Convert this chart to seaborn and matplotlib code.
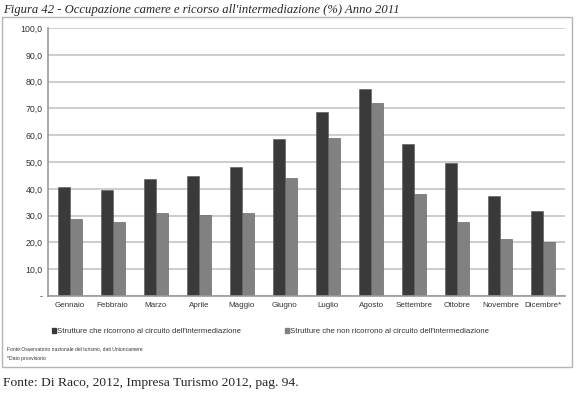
import pandas as pd
import matplotlib.pyplot as plt
import seaborn as sns
from matplotlib.patches import Rectangle

# Values (%)
mesi = ['Gennaio', 'Febbraio', 'Marzo', 'Aprile', 'Maggio', 'Giugno',
        'Luglio', 'Agosto', 'Settembre', 'Ottobre', 'Novembre', 'Dicembre*']
serie = ["Strutture che ricorrono al circuito dell'intermediazione",
         "Strutture che non ricorrono al circuito dell'intermediazione"]
ricorrono = [40.7, 39.7, 43.6, 44.6, 48.1, 58.6, 68.8, 77.3, 56.9, 49.6, 37.2, 31.9]
non_ricorrono = [28.7, 27.7, 31.1, 30.1, 31.1, 44.1, 58.9, 71.9, 38.0, 27.5, 21.4, 20.3]
yticks = [0, 10, 20, 30, 40, 50, 60, 70, 80, 90, 100]
ytick_labels = ['-'] + ['%d,0' % v for v in yticks[1:]]

colori = ['#3a3a3a', '#818181']

df = pd.DataFrame({
    'mese': mesi * 2,
    'valore': ricorrono + non_ricorrono,
    'serie': [serie[0]] * len(mesi) + [serie[1]] * len(mesi),
})

sns.set_style('white')
plt.rcParams['font.family'] = ['Liberation Sans', 'DejaVu Sans']

fig = plt.figure(figsize=(5.8, 3.97), dpi=100)
ax = fig.add_axes([0.083, 0.2544, 0.891, 0.675])

sns.barplot(data=df, x='mese', y='valore', hue='serie', palette=colori,
            width=0.56, saturation=1, gap=0, edgecolor='#555555', linewidth=0.4,
            ax=ax, legend=False)

ax.set_ylim(0, 100)
ax.set_xlim(-0.5, len(mesi) - 0.5)
ax.set_yticks(yticks)
ax.set_yticklabels(ytick_labels, fontsize=6.3, color='#333333')
ax.set_xticks(range(len(mesi)))
ax.set_xticklabels(mesi, fontsize=5.8, color='#333333')
ax.set_xlabel('')
ax.set_ylabel('')
ax.yaxis.grid(True, color='#c9c9c9', linewidth=1.3)
ax.set_axisbelow(True)
for s in ['top', 'right']:
    ax.spines[s].set_visible(False)
ax.spines['left'].set_color('#9a9a9a')
ax.spines['bottom'].set_color('#9a9a9a')
ax.spines['left'].set_linewidth(1.2)
ax.spines['bottom'].set_linewidth(1.2)
ax.tick_params(axis='both', length=0, pad=4)

# legend below the plot
handles = [plt.Rectangle((0, 0), 1, 1, color=c) for c in colori]
fig.legend(handles, serie, loc='center', bbox_to_anchor=(0.466, 0.164), ncol=2,
           frameon=False, fontsize=5.6, handlelength=0.55, handleheight=0.55,
           handletextpad=0.15, columnspacing=5.6, labelcolor='#333333')

# chart box
fig.patches.append(Rectangle((0.004, 0.075), 0.983, 0.882, transform=fig.transFigure,
                             fill=False, edgecolor='#b5b5b5', linewidth=1.0))

fig.text(0.006, 0.974, "Figura 42 - Occupazione camere e ricorso all'intermediazione (%) Anno 2011",
         fontsize=9.1, style='italic', family='Liberation Serif', va='center')
fig.text(0.012, 0.121, 'Fonte:Osservatorio nazionale del turismo, dati Unioncamere',
         fontsize=3.6, color='#333333', va='center')
fig.text(0.012, 0.096, '*Dato provvisorio', fontsize=3.6, color='#333333', va='center')
fig.text(0.006, 0.035, 'Fonte: Di Raco, 2012, Impresa Turismo 2012, pag. 94.',
         fontsize=9.7, family='Liberation Serif', va='center')

plt.savefig('out.png', dpi=100)
